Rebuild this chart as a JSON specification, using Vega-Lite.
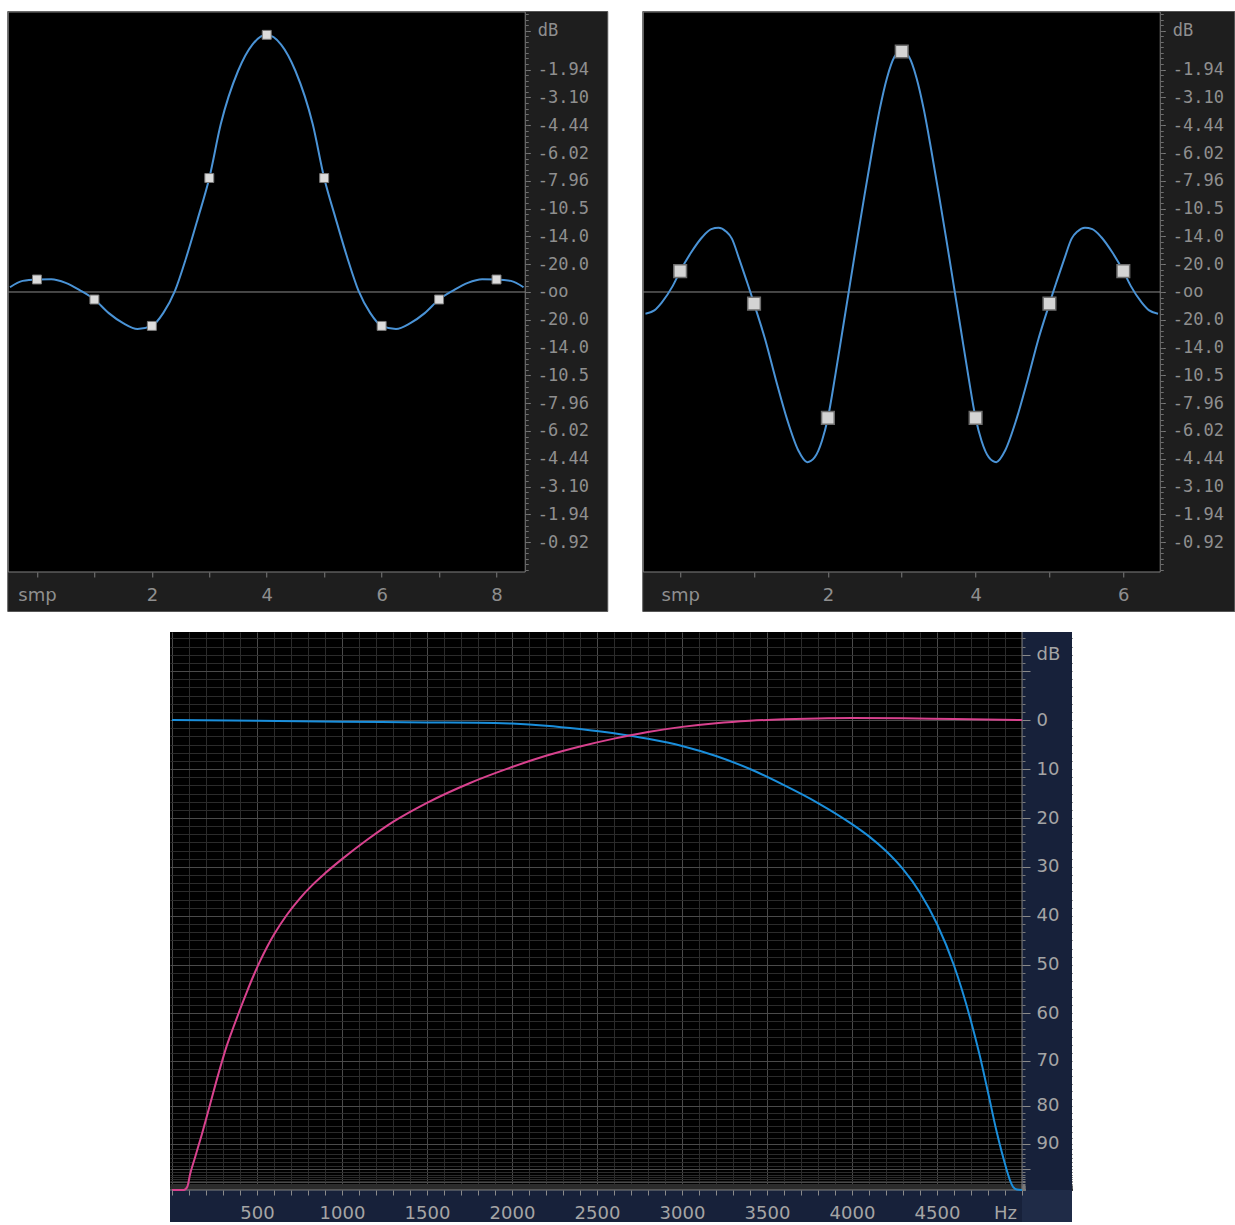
{
  "$schema": "https://vega.github.io/schema/vega-lite/v6.json",
  "background": "#ffffff",
  "padding": {"left": 6, "top": 10, "right": 0, "bottom": 0},
  "config": {"view": {"stroke": null}, "axis": {"labelFont": "DejaVu Sans", "labelFontSize": 18}},
  "datasets": {
    "lp9_curve": [
      {"sample": -0.47, "amplitude": 0.017}, {"sample": -0.25, "amplitude": 0.04}, {"sample": 0, "amplitude": 0.045},
      {"sample": 0.25, "amplitude": 0.046}, {"sample": 0.5, "amplitude": 0.033}, {"sample": 0.75, "amplitude": 0.006},
      {"sample": 1, "amplitude": -0.027}, {"sample": 1.25, "amplitude": -0.076}, {"sample": 1.5, "amplitude": -0.112},
      {"sample": 1.75, "amplitude": -0.133}, {"sample": 2, "amplitude": -0.122}, {"sample": 2.2, "amplitude": -0.075},
      {"sample": 2.4, "amplitude": 0.003}, {"sample": 2.6, "amplitude": 0.125}, {"sample": 2.8, "amplitude": 0.264},
      {"sample": 3, "amplitude": 0.41}, {"sample": 3.2, "amplitude": 0.604}, {"sample": 3.5, "amplitude": 0.795},
      {"sample": 3.75, "amplitude": 0.89}, {"sample": 4, "amplitude": 0.925}, {"sample": 4.25, "amplitude": 0.89},
      {"sample": 4.5, "amplitude": 0.795}, {"sample": 4.8, "amplitude": 0.604}, {"sample": 5, "amplitude": 0.41},
      {"sample": 5.2, "amplitude": 0.264}, {"sample": 5.4, "amplitude": 0.125}, {"sample": 5.6, "amplitude": 0.003},
      {"sample": 5.8, "amplitude": -0.075}, {"sample": 6, "amplitude": -0.122}, {"sample": 6.25, "amplitude": -0.133},
      {"sample": 6.5, "amplitude": -0.112}, {"sample": 6.75, "amplitude": -0.076}, {"sample": 7, "amplitude": -0.027},
      {"sample": 7.25, "amplitude": 0.006}, {"sample": 7.5, "amplitude": 0.033}, {"sample": 7.75, "amplitude": 0.046},
      {"sample": 8, "amplitude": 0.045}, {"sample": 8.25, "amplitude": 0.04}, {"sample": 8.47, "amplitude": 0.017}
    ],
    "lp9_taps": [
      {"sample": 0, "amplitude": 0.045}, {"sample": 1, "amplitude": -0.027}, {"sample": 2, "amplitude": -0.122},
      {"sample": 3, "amplitude": 0.41}, {"sample": 4, "amplitude": 0.925}, {"sample": 5, "amplitude": 0.41},
      {"sample": 6, "amplitude": -0.122}, {"sample": 7, "amplitude": -0.027}, {"sample": 8, "amplitude": 0.045}
    ],
    "hp7_curve": [
      {"sample": -0.47, "amplitude": -0.078}, {"sample": -0.35, "amplitude": -0.066}, {"sample": -0.25, "amplitude": -0.038},
      {"sample": -0.1, "amplitude": 0.022}, {"sample": 0, "amplitude": 0.075}, {"sample": 0.15, "amplitude": 0.143},
      {"sample": 0.3, "amplitude": 0.198}, {"sample": 0.42, "amplitude": 0.226}, {"sample": 0.52, "amplitude": 0.231},
      {"sample": 0.62, "amplitude": 0.218}, {"sample": 0.7, "amplitude": 0.192}, {"sample": 0.8, "amplitude": 0.118},
      {"sample": 0.9, "amplitude": 0.04}, {"sample": 0.95, "amplitude": 0}, {"sample": 1, "amplitude": -0.042},
      {"sample": 1.15, "amplitude": -0.17}, {"sample": 1.3, "amplitude": -0.32}, {"sample": 1.45, "amplitude": -0.46},
      {"sample": 1.6, "amplitude": -0.57}, {"sample": 1.72, "amplitude": -0.612}, {"sample": 1.82, "amplitude": -0.595},
      {"sample": 1.92, "amplitude": -0.535}, {"sample": 2, "amplitude": -0.453}, {"sample": 2.1, "amplitude": -0.3},
      {"sample": 2.2, "amplitude": -0.135}, {"sample": 2.3, "amplitude": 0.03}, {"sample": 2.4, "amplitude": 0.195},
      {"sample": 2.5, "amplitude": 0.355}, {"sample": 2.6, "amplitude": 0.51}, {"sample": 2.7, "amplitude": 0.655},
      {"sample": 2.8, "amplitude": 0.77}, {"sample": 2.9, "amplitude": 0.845}, {"sample": 3, "amplitude": 0.868},
      {"sample": 3.1, "amplitude": 0.845}, {"sample": 3.2, "amplitude": 0.77}, {"sample": 3.3, "amplitude": 0.655},
      {"sample": 3.4, "amplitude": 0.51}, {"sample": 3.5, "amplitude": 0.355}, {"sample": 3.6, "amplitude": 0.195},
      {"sample": 3.7, "amplitude": 0.03}, {"sample": 3.8, "amplitude": -0.135}, {"sample": 3.9, "amplitude": -0.3},
      {"sample": 4, "amplitude": -0.453}, {"sample": 4.08, "amplitude": -0.535}, {"sample": 4.18, "amplitude": -0.595},
      {"sample": 4.28, "amplitude": -0.612}, {"sample": 4.4, "amplitude": -0.57}, {"sample": 4.55, "amplitude": -0.46},
      {"sample": 4.7, "amplitude": -0.32}, {"sample": 4.85, "amplitude": -0.17}, {"sample": 5, "amplitude": -0.042},
      {"sample": 5.05, "amplitude": 0}, {"sample": 5.1, "amplitude": 0.04}, {"sample": 5.2, "amplitude": 0.118},
      {"sample": 5.3, "amplitude": 0.192}, {"sample": 5.38, "amplitude": 0.218}, {"sample": 5.48, "amplitude": 0.231},
      {"sample": 5.58, "amplitude": 0.226}, {"sample": 5.7, "amplitude": 0.198}, {"sample": 5.85, "amplitude": 0.143},
      {"sample": 6, "amplitude": 0.075}, {"sample": 6.1, "amplitude": 0.022}, {"sample": 6.25, "amplitude": -0.038},
      {"sample": 6.35, "amplitude": -0.066}, {"sample": 6.47, "amplitude": -0.078}
    ],
    "hp7_taps": [
      {"sample": 0, "amplitude": 0.075}, {"sample": 1, "amplitude": -0.042}, {"sample": 2, "amplitude": -0.453},
      {"sample": 3, "amplitude": 0.865}, {"sample": 4, "amplitude": -0.453}, {"sample": 5, "amplitude": -0.042},
      {"sample": 6, "amplitude": 0.075}
    ],
    "response": [
      {"hz": 0, "gain": 1, "filter": "lowpass"}, {"hz": 500, "gain": 0.9829, "filter": "lowpass"},
      {"hz": 1000, "gain": 0.9605, "filter": "lowpass"}, {"hz": 1500, "gain": 0.9441, "filter": "lowpass"},
      {"hz": 1800, "gain": 0.9387, "filter": "lowpass"}, {"hz": 2000, "gain": 0.9204, "filter": "lowpass"},
      {"hz": 2200, "gain": 0.8759, "filter": "lowpass"}, {"hz": 2400, "gain": 0.8082, "filter": "lowpass"},
      {"hz": 2600, "gain": 0.7311, "filter": "lowpass"}, {"hz": 2800, "gain": 0.6423, "filter": "lowpass"},
      {"hz": 3000, "gain": 0.5433, "filter": "lowpass"}, {"hz": 3200, "gain": 0.429, "filter": "lowpass"},
      {"hz": 3400, "gain": 0.3162, "filter": "lowpass"}, {"hz": 3600, "gain": 0.2163, "filter": "lowpass"},
      {"hz": 3800, "gain": 0.1421, "filter": "lowpass"}, {"hz": 4000, "gain": 0.0866, "filter": "lowpass"},
      {"hz": 4100, "gain": 0.06494, "filter": "lowpass"}, {"hz": 4200, "gain": 0.04597, "filter": "lowpass"},
      {"hz": 4300, "gain": 0.03003, "filter": "lowpass"}, {"hz": 4400, "gain": 0.01728, "filter": "lowpass"},
      {"hz": 4500, "gain": 0.008269, "filter": "lowpass"}, {"hz": 4600, "gain": 0.003108, "filter": "lowpass"},
      {"hz": 4700, "gain": 0.000827, "filter": "lowpass"}, {"hz": 4750, "gain": 0.0003694, "filter": "lowpass"},
      {"hz": 4800, "gain": 0.0001429, "filter": "lowpass"}, {"hz": 4850, "gain": 0.00004786, "filter": "lowpass"},
      {"hz": 4900, "gain": 0.00001349, "filter": "lowpass"}, {"hz": 4930, "gain": 0.00000398, "filter": "lowpass"},
      {"hz": 4950, "gain": 0.000001, "filter": "lowpass"}, {"hz": 4970, "gain": 0.0000001778, "filter": "lowpass"},
      {"hz": 5000, "gain": 0, "filter": "lowpass"},
      {"hz": 0, "gain": 0, "filter": "highpass"}, {"hz": 70, "gain": 0, "filter": "highpass"},
      {"hz": 90, "gain": 0.000001259, "filter": "highpass"}, {"hz": 106, "gain": 0.00000708, "filter": "highpass"},
      {"hz": 135, "gain": 0.0000182, "filter": "highpass"}, {"hz": 175, "gain": 0.0000427, "filter": "highpass"},
      {"hz": 224, "gain": 0.0001035, "filter": "highpass"}, {"hz": 273, "gain": 0.000229, "filter": "highpass"},
      {"hz": 322, "gain": 0.000457, "filter": "highpass"}, {"hz": 360, "gain": 0.0007079, "filter": "highpass"},
      {"hz": 400, "gain": 0.001096, "filter": "highpass"}, {"hz": 440, "gain": 0.00166, "filter": "highpass"},
      {"hz": 480, "gain": 0.002455, "filter": "highpass"}, {"hz": 520, "gain": 0.003508, "filter": "highpass"},
      {"hz": 560, "gain": 0.004842, "filter": "highpass"}, {"hz": 600, "gain": 0.006457, "filter": "highpass"},
      {"hz": 675, "gain": 0.01023, "filter": "highpass"}, {"hz": 750, "gain": 0.01496, "filter": "highpass"},
      {"hz": 825, "gain": 0.02065, "filter": "highpass"}, {"hz": 900, "gain": 0.02723, "filter": "highpass"},
      {"hz": 1000, "gain": 0.03802, "filter": "highpass"}, {"hz": 1150, "gain": 0.06026, "filter": "highpass"},
      {"hz": 1300, "gain": 0.0912, "filter": "highpass"}, {"hz": 1500, "gain": 0.1429, "filter": "highpass"},
      {"hz": 1750, "gain": 0.2265, "filter": "highpass"}, {"hz": 2000, "gain": 0.3311, "filter": "highpass"},
      {"hz": 2200, "gain": 0.4315, "filter": "highpass"}, {"hz": 2400, "gain": 0.537, "filter": "highpass"},
      {"hz": 2600, "gain": 0.6457, "filter": "highpass"}, {"hz": 2800, "gain": 0.7545, "filter": "highpass"},
      {"hz": 3000, "gain": 0.8511, "filter": "highpass"}, {"hz": 3200, "gain": 0.9279, "filter": "highpass"},
      {"hz": 3400, "gain": 0.9829, "filter": "highpass"}, {"hz": 3600, "gain": 1.0174, "filter": "highpass"},
      {"hz": 3800, "gain": 1.0387, "filter": "highpass"}, {"hz": 4000, "gain": 1.0471, "filter": "highpass"},
      {"hz": 4300, "gain": 1.0411, "filter": "highpass"}, {"hz": 4600, "gain": 1.0233, "filter": "highpass"},
      {"hz": 5000, "gain": 1, "filter": "highpass"}
    ]
  },
  "spacing": 19,
  "center": true,
  "vconcat": [
    {
      "spacing": 33,
      "hconcat": [
        {
          "width": 600, "height": 600,
          "view": {"fill": "#1e1e1e", "stroke": "#555555", "strokeWidth": 1},
          "resolve": {"axis": {"x": "independent", "y": "independent"}},
          "layer": [
            {
              "data": {"values": [{}]},
              "mark": {"type": "rect", "fill": "#000000", "stroke": "#808080", "strokeWidth": 1},
              "encoding": {
                "x": {"datum": -0.5, "type": "quantitative", "scale": {"domain": [-0.5174, 9.9275], "nice": false, "zero": false}, "axis": null},
                "x2": {"datum": 8.5},
                "y": {"datum": -1.0072, "type": "quantitative", "scale": {"domain": [-1.1475, 1.0108], "nice": false, "zero": false}, "axis": null},
                "y2": {"datum": 1.0072}
              }
            },
            {
              "data": {"values": [{}]},
              "mark": {"type": "rule", "color": "#8a8a8a", "strokeWidth": 1},
              "encoding": {
                "x": {"datum": -0.5, "type": "quantitative", "scale": {"domain": [-0.5174, 9.9275], "nice": false, "zero": false}, "axis": null},
                "x2": {"datum": 8.5},
                "y": {"datum": 0, "type": "quantitative", "scale": {"domain": [-1.1475, 1.0108], "nice": false, "zero": false}, "axis": null}
              }
            },
            {
              "data": {"name": "lp9_curve"},
              "mark": {"type": "line", "color": "#4a93d6", "strokeWidth": 2, "strokeJoin": "round", "interpolate": "monotone"},
              "encoding": {
                "x": {"field": "sample", "type": "quantitative", "scale": {"domain": [-0.5174, 9.9275], "nice": false, "zero": false},
                  "axis": {"orient": "bottom", "offset": -39, "values": [0, 1, 2, 3, 4, 5, 6, 7, 8], "title": null, "domain": false, "grid": false, "tickSize": 5, "tickColor": "#7c7c7c", "labelExpr": "datum.value == 0 ? 'smp' : (datum.value % 2 == 0 ? '' + datum.value : '')", "labelPadding": 9, "labelColor": "#8f8f8f", "labelOverlap": false, "labelFlush": false, "zindex": 1}},
                "y": {"field": "amplitude", "type": "quantitative", "scale": {"domain": [-1.1475, 1.0108], "nice": false, "zero": false},
                  "axis": {"orient": "right", "offset": -82, "values": [0.94, 0.8, 0.7, 0.6, 0.5, 0.4, 0.3, 0.2, 0.1, 0, -0.1, -0.2, -0.3, -0.4, -0.5, -0.6, -0.7, -0.8, -0.9], "title": null, "domain": false, "grid": false, "tickSize": 5, "tickColor": "#7c7c7c", "labelExpr": "abs(datum.value - 0.94) < 0.001 ? 'dB' : (abs(datum.value) < 0.000001 ? '-oo' : '-' + format(abs(20*log(abs(datum.value))/log(10)), abs(20*log(abs(datum.value))/log(10)) < 10 ? '.2f' : '.1f'))", "labelFont": "DejaVu Sans Mono", "labelFontSize": 17, "labelPadding": 7, "labelAlign": "left", "labelBaseline": "middle", "labelColor": "#8f8f8f", "labelOverlap": false, "labelFlush": false, "zindex": 1}}
              }
            },
            {
              "data": {"name": "lp9_taps"},
              "mark": {"type": "point", "shape": "square", "filled": true, "size": 80, "fill": "#dcdcdc", "stroke": "#7a7a7a", "strokeWidth": 1, "opacity": 1},
              "encoding": {
                "x": {"field": "sample", "type": "quantitative", "scale": {"domain": [-0.5174, 9.9275], "nice": false, "zero": false}, "axis": null},
                "y": {"field": "amplitude", "type": "quantitative", "scale": {"domain": [-1.1475, 1.0108], "nice": false, "zero": false},
                  "axis": {"orient": "right", "offset": -82, "values": [-1,-0.98,-0.96,-0.94,-0.92,-0.9,-0.88,-0.86,-0.84,-0.82,-0.8,-0.78,-0.76,-0.74,-0.72,-0.7,-0.68,-0.66,-0.64,-0.62,-0.6,-0.58,-0.56,-0.54,-0.52,-0.5,-0.48,-0.46,-0.44,-0.42,-0.4,-0.38,-0.36,-0.34,-0.32,-0.3,-0.28,-0.26,-0.24,-0.22,-0.2,-0.18,-0.16,-0.14,-0.12,-0.1,-0.08,-0.06,-0.04,-0.02,0,0.02,0.04,0.06,0.08,0.1,0.12,0.14,0.16,0.18,0.2,0.22,0.24,0.26,0.28,0.3,0.32,0.34,0.36,0.38,0.4,0.42,0.44,0.46,0.48,0.5,0.52,0.54,0.56,0.58,0.6,0.62,0.64,0.66,0.68,0.7,0.72,0.74,0.76,0.78,0.8,0.82,0.84,0.86,0.88,0.9,0.92,0.94,0.96,0.98,1], "title": null, "domain": false, "grid": false, "labels": false, "tickSize": 3, "tickColor": "#6e6e6e", "zindex": 1}}
              }
            }
          ]
        },
        {
          "width": 592, "height": 600,
          "view": {"fill": "#1e1e1e", "stroke": "#555555", "strokeWidth": 1},
          "resolve": {"axis": {"x": "independent", "y": "independent"}},
          "layer": [
            {
              "data": {"values": [{}]},
              "mark": {"type": "rect", "fill": "#000000", "stroke": "#808080", "strokeWidth": 1},
              "encoding": {
                "x": {"datum": -0.5, "type": "quantitative", "scale": {"domain": [-0.51354, 7.50194], "nice": false, "zero": false}, "axis": null},
                "x2": {"datum": 6.5},
                "y": {"datum": -1.0072, "type": "quantitative", "scale": {"domain": [-1.1475, 1.0108], "nice": false, "zero": false}, "axis": null},
                "y2": {"datum": 1.0072}
              }
            },
            {
              "data": {"values": [{}]},
              "mark": {"type": "rule", "color": "#8a8a8a", "strokeWidth": 1},
              "encoding": {
                "x": {"datum": -0.5, "type": "quantitative", "scale": {"domain": [-0.51354, 7.50194], "nice": false, "zero": false}, "axis": null},
                "x2": {"datum": 6.5},
                "y": {"datum": 0, "type": "quantitative", "scale": {"domain": [-1.1475, 1.0108], "nice": false, "zero": false}, "axis": null}
              }
            },
            {
              "data": {"name": "hp7_curve"},
              "mark": {"type": "line", "color": "#4a93d6", "strokeWidth": 2, "strokeJoin": "round", "interpolate": "monotone"},
              "encoding": {
                "x": {"field": "sample", "type": "quantitative", "scale": {"domain": [-0.51354, 7.50194], "nice": false, "zero": false},
                  "axis": {"orient": "bottom", "offset": -39, "values": [0, 1, 2, 3, 4, 5, 6], "title": null, "domain": false, "grid": false, "tickSize": 5, "tickColor": "#7c7c7c", "labelExpr": "datum.value == 0 ? 'smp' : (datum.value % 2 == 0 ? '' + datum.value : '')", "labelPadding": 9, "labelColor": "#8f8f8f", "labelOverlap": false, "labelFlush": false, "zindex": 1}},
                "y": {"field": "amplitude", "type": "quantitative", "scale": {"domain": [-1.1475, 1.0108], "nice": false, "zero": false},
                  "axis": {"orient": "right", "offset": -74, "values": [0.94, 0.8, 0.7, 0.6, 0.5, 0.4, 0.3, 0.2, 0.1, 0, -0.1, -0.2, -0.3, -0.4, -0.5, -0.6, -0.7, -0.8, -0.9], "title": null, "domain": false, "grid": false, "tickSize": 5, "tickColor": "#7c7c7c", "labelExpr": "abs(datum.value - 0.94) < 0.001 ? 'dB' : (abs(datum.value) < 0.000001 ? '-oo' : '-' + format(abs(20*log(abs(datum.value))/log(10)), abs(20*log(abs(datum.value))/log(10)) < 10 ? '.2f' : '.1f'))", "labelFont": "DejaVu Sans Mono", "labelFontSize": 17, "labelPadding": 7, "labelAlign": "left", "labelBaseline": "middle", "labelColor": "#8f8f8f", "labelOverlap": false, "labelFlush": false, "zindex": 1}}
              }
            },
            {
              "data": {"name": "hp7_taps"},
              "mark": {"type": "point", "shape": "square", "filled": true, "size": 160, "fill": "#d4d4d4", "stroke": "#6e6e6e", "strokeWidth": 1.5, "opacity": 1},
              "encoding": {
                "x": {"field": "sample", "type": "quantitative", "scale": {"domain": [-0.51354, 7.50194], "nice": false, "zero": false}, "axis": null},
                "y": {"field": "amplitude", "type": "quantitative", "scale": {"domain": [-1.1475, 1.0108], "nice": false, "zero": false},
                  "axis": {"orient": "right", "offset": -74, "values": [-1,-0.98,-0.96,-0.94,-0.92,-0.9,-0.88,-0.86,-0.84,-0.82,-0.8,-0.78,-0.76,-0.74,-0.72,-0.7,-0.68,-0.66,-0.64,-0.62,-0.6,-0.58,-0.56,-0.54,-0.52,-0.5,-0.48,-0.46,-0.44,-0.42,-0.4,-0.38,-0.36,-0.34,-0.32,-0.3,-0.28,-0.26,-0.24,-0.22,-0.2,-0.18,-0.16,-0.14,-0.12,-0.1,-0.08,-0.06,-0.04,-0.02,0,0.02,0.04,0.06,0.08,0.1,0.12,0.14,0.16,0.18,0.2,0.22,0.24,0.26,0.28,0.3,0.32,0.34,0.36,0.38,0.4,0.42,0.44,0.46,0.48,0.5,0.52,0.54,0.56,0.58,0.6,0.62,0.64,0.66,0.68,0.7,0.72,0.74,0.76,0.78,0.8,0.82,0.84,0.86,0.88,0.9,0.92,0.94,0.96,0.98,1], "title": null, "domain": false, "grid": false, "labels": false, "tickSize": 3, "tickColor": "#6e6e6e", "zindex": 1}}
              }
            }
          ]
        }
      ]
    },
    {
      "width": 902, "height": 590,
      "view": {"fill": "#000000", "stroke": null},
      "resolve": {"axis": {"x": "independent", "y": "independent"}},
      "layer": [
        {
          "data": {"values": [{}]},
          "mark": {"type": "rect", "fill": "#17213a"},
          "encoding": {
            "x": {"datum": 5000, "type": "quantitative", "scale": {"domain": [-11.765, 5294.1], "nice": false, "zero": false},
              "axis": {"orient": "bottom", "values": [0,100,200,300,400,500,600,700,800,900,1000,1100,1200,1300,1400,1500,1600,1700,1800,1900,2000,2100,2200,2300,2400,2500,2600,2700,2800,2900,3000,3100,3200,3300,3400,3500,3600,3700,3800,3900,4000,4100,4200,4300,4400,4500,4600,4700,4800,4900,5000], "title": null, "domain": false, "ticks": false, "labels": false, "grid": true, "gridWidth": 1, "gridColor": {"condition": {"test": "datum.value % 500 == 0", "value": "#4a4a4a"}, "value": "#2b2b2b"}, "zindex": 0}},
            "x2": {"datum": 5294.1},
            "y": {"datum": -0.000017938, "type": "quantitative", "scale": {"type": "symlog", "constant": 0.000016, "domain": [-0.000017938, 7.9088], "nice": false, "zero": false},
              "axis": {"orient": "right", "values": [6.812921,5.623413,4.641589,3.831187,3.162278,2.610157,2.154435,1.778279,1.467799,1.211528,1,0.825404,0.681292,0.562341,0.464159,0.383119,0.316228,0.261016,0.215443,0.177828,0.14678,0.121153,0.1,0.0825404,0.0681292,0.0562341,0.0464159,0.0383119,0.0316228,0.0261016,0.0215443,0.0177828,0.014678,0.0121153,0.01,0.00825404,0.00681292,0.00562341,0.00464159,0.00383119,0.00316228,0.00261016,0.00215443,0.00177828,0.0014678,0.00121153,0.001,8.25404e-4,6.81292e-4,5.62341e-4,4.64159e-4,3.83119e-4,3.16228e-4,2.61016e-4,2.15443e-4,1.77828e-4,1.4678e-4,1.21153e-4,1e-4,8.25404e-5,6.81292e-5,5.62341e-5,4.64159e-5,3.83119e-5,3.16228e-5,2.61016e-5,2.15443e-5,1.77828e-5,1.4678e-5,1.21153e-5,1e-5,8.25404e-6,6.81292e-6,5.62341e-6,4.64159e-6,3.83119e-6,3.16228e-6,2.61016e-6,2.15443e-6,1.77828e-6,1.4678e-6,1.21153e-6,1e-6,8.25404e-7,6.81292e-7,5.62341e-7,4.64159e-7,3.83119e-7,3.16228e-7,2.61016e-7,2.15443e-7,1.77828e-7,1.4678e-7,1.21153e-7,1e-7], "title": null, "domain": false, "ticks": false, "labels": false, "grid": true, "gridWidth": 1, "gridColor": {"condition": {"test": "abs(2*log(datum.value)/log(10) - round(2*log(datum.value)/log(10))) < 0.01", "value": "#4a4a4a"}, "value": "#2b2b2b"}, "zindex": 0}},
            "y2": {"datum": 7.9088}
          }
        },
        {
          "data": {"values": [{}]},
          "mark": {"type": "rect", "fill": "#17213a"},
          "encoding": {
            "x": {"datum": -11.765, "type": "quantitative", "scale": {"domain": [-11.765, 5294.1], "nice": false, "zero": false}, "axis": null},
            "x2": {"datum": 5000},
            "y": {"datum": -0.000017938, "type": "quantitative", "scale": {"type": "symlog", "constant": 0.000016, "domain": [-0.000017938, 7.9088], "nice": false, "zero": false},
              "axis": {"orient": "right", "offset": -50, "values": [6.812921,5.623413,4.641589,3.831187,3.162278,2.610157,2.154435,1.778279,1.467799,1.211528,1,0.825404,0.681292,0.562341,0.464159,0.383119,0.316228,0.261016,0.215443,0.177828,0.14678,0.121153,0.1,0.0825404,0.0681292,0.0562341,0.0464159,0.0383119,0.0316228,0.0261016,0.0215443,0.0177828,0.014678,0.0121153,0.01,0.00825404,0.00681292,0.00562341,0.00464159,0.00383119,0.00316228,0.00261016,0.00215443,0.00177828,0.0014678,0.00121153,0.001,8.25404e-4,6.81292e-4,5.62341e-4,4.64159e-4,3.83119e-4,3.16228e-4,2.61016e-4,2.15443e-4,1.77828e-4,1.4678e-4,1.21153e-4,1e-4,8.25404e-5,6.81292e-5,5.62341e-5,4.64159e-5,3.83119e-5,3.16228e-5,2.61016e-5,2.15443e-5,1.77828e-5,1.4678e-5,1.21153e-5,1e-5,8.25404e-6,6.81292e-6,5.62341e-6,4.64159e-6,3.83119e-6,3.16228e-6,2.61016e-6,2.15443e-6,1.77828e-6,1.4678e-6,1.21153e-6,1e-6,8.25404e-7,6.81292e-7,5.62341e-7,4.64159e-7,3.83119e-7,3.16228e-7,2.61016e-7,2.15443e-7,1.77828e-7,1.4678e-7,1.21153e-7,1e-7], "title": null, "domain": false, "grid": false, "labels": false, "tickSize": 3, "tickColor": "#7a7a7a", "zindex": 1}},
            "y2": {"datum": 0}
          }
        },
        {
          "data": {"values": [{}]},
          "mark": {"type": "rect", "fill": "#1f2b47"},
          "encoding": {
            "x": {"datum": 5000, "type": "quantitative", "scale": {"domain": [-11.765, 5294.1], "nice": false, "zero": false}, "axis": null},
            "x2": {"datum": 5294.1},
            "y": {"datum": -0.000017938, "type": "quantitative", "scale": {"type": "symlog", "constant": 0.000016, "domain": [-0.000017938, 7.9088], "nice": false, "zero": false}, "axis": null},
            "y2": {"datum": 0}
          }
        },
        {
          "data": {"values": [{}]},
          "mark": {"type": "rule", "color": "#858585", "strokeWidth": 1},
          "encoding": {
            "x": {"datum": 5000, "type": "quantitative", "scale": {"domain": [-11.765, 5294.1], "nice": false, "zero": false}, "axis": null},
            "y": {"datum": 0, "type": "quantitative", "scale": {"type": "symlog", "constant": 0.000016, "domain": [-0.000017938, 7.9088], "nice": false, "zero": false}, "axis": null},
            "y2": {"datum": 7.9088}
          }
        },
        {
          "data": {"values": [{}]},
          "mark": {"type": "rule", "color": "#858585", "strokeWidth": 1},
          "encoding": {
            "x": {"datum": -11.765, "type": "quantitative", "scale": {"domain": [-11.765, 5294.1], "nice": false, "zero": false}, "axis": null},
            "x2": {"datum": 5000},
            "y": {"datum": 0, "type": "quantitative", "scale": {"type": "symlog", "constant": 0.000016, "domain": [-0.000017938, 7.9088], "nice": false, "zero": false}, "axis": null}
          }
        },
        {
          "data": {"name": "response"},
          "mark": {"type": "line", "strokeWidth": 2, "strokeJoin": "round", "interpolate": "monotone"},
          "encoding": {
            "x": {"field": "hz", "type": "quantitative", "scale": {"domain": [-11.765, 5294.1], "nice": false, "zero": false},
              "axis": {"orient": "bottom", "offset": -32, "values": [0,100,200,300,400,500,600,700,800,900,1000,1100,1200,1300,1400,1500,1600,1700,1800,1900,2000,2100,2200,2300,2400,2500,2600,2700,2800,2900,3000,3100,3200,3300,3400,3500,3600,3700,3800,3900,4000,4100,4200,4300,4400,4500,4600,4700,4800,4900,5000], "title": null, "domain": false, "grid": false, "tickSize": 5, "tickColor": "#8a8a8a", "labelExpr": "datum.value == 4900 ? 'Hz' : (datum.value > 0 && datum.value < 5000 && datum.value % 500 == 0 ? '' + datum.value : '')", "labelPadding": 9, "labelColor": "#a5a5a5", "labelOverlap": false, "labelFlush": false, "zindex": 1}},
            "y": {"field": "gain", "type": "quantitative", "scale": {"type": "symlog", "constant": 0.000016, "domain": [-0.000017938, 7.9088], "nice": false, "zero": false},
              "axis": {"orient": "right", "offset": -50, "values": [4.641589, 3.162278, 1, 0.316228, 0.1, 0.0316228, 0.01, 0.00316228, 0.001, 0.000316228, 0.0001, 0.0000316228, 0.00001], "title": null, "domain": false, "grid": false, "tickSize": 8, "tickColor": "#8a8a8a", "labelExpr": "abs(datum.value - 4.641589) < 0.001 ? 'dB' : (datum.value > 2 || datum.value < 0.00002 ? '' : '' + round(-20*log(datum.value)/log(10)))", "labelPadding": 6, "labelAlign": "left", "labelBaseline": "middle", "labelColor": "#a5a5a5", "labelOverlap": false, "labelFlush": false, "zindex": 1}},
            "color": {"field": "filter", "type": "nominal", "scale": {"domain": ["lowpass", "highpass"], "range": ["#1a8edb", "#d8428e"]}, "legend": null}
          }
        }
      ]
    }
  ]
}
